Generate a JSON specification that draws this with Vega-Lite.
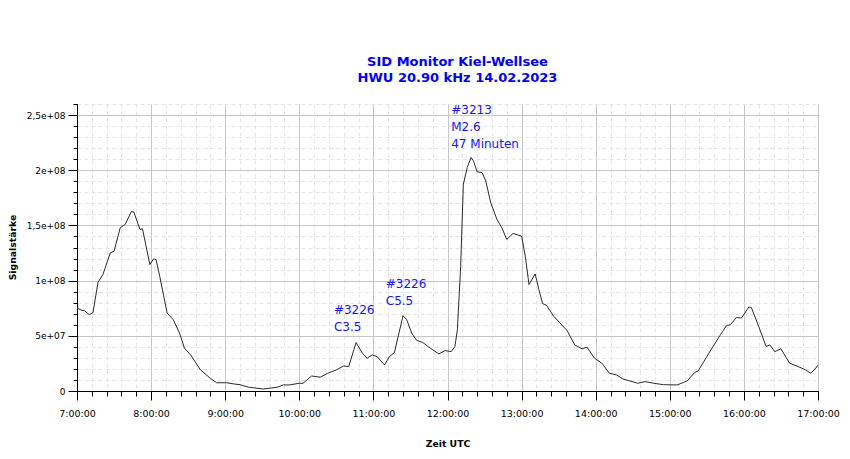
{
  "$schema": "https://vega.github.io/schema/vega-lite/v6.json",
  "autosize": {"type": "none"},
  "padding": {"left": 77, "top": 104, "right": 32, "bottom": 68},
  "width": 741,
  "height": 287,
  "background": "white",
  "title": {
    "text": ["SID Monitor Kiel-Wellsee", "HWU 20.90 kHz 14.02.2023"],
    "font": "DejaVu Sans",
    "fontSize": 13,
    "fontWeight": "bold",
    "color": "#0000ff",
    "lineHeight": 16,
    "offset": 19,
    "dx": 10
  },
  "datasets": {
    "sid": [
      {"t": "2023-02-14T07:00:00", "v": 75200000},
      {"t": "2023-02-14T07:04:00", "v": 73000000},
      {"t": "2023-02-14T07:06:00", "v": 72700000},
      {"t": "2023-02-14T07:10:00", "v": 69100000},
      {"t": "2023-02-14T07:13:00", "v": 71200000},
      {"t": "2023-02-14T07:17:00", "v": 98500000},
      {"t": "2023-02-14T07:21:00", "v": 105500000},
      {"t": "2023-02-14T07:27:00", "v": 125200000},
      {"t": "2023-02-14T07:30:00", "v": 126600000},
      {"t": "2023-02-14T07:35:00", "v": 147900000},
      {"t": "2023-02-14T07:39:00", "v": 150900000},
      {"t": "2023-02-14T07:44:00", "v": 162500000},
      {"t": "2023-02-14T07:46:00", "v": 162100000},
      {"t": "2023-02-14T07:51:00", "v": 146400000},
      {"t": "2023-02-14T07:53:00", "v": 147000000},
      {"t": "2023-02-14T07:59:00", "v": 114500000},
      {"t": "2023-02-14T08:02:00", "v": 119700000},
      {"t": "2023-02-14T08:04:00", "v": 119100000},
      {"t": "2023-02-14T08:07:00", "v": 103900000},
      {"t": "2023-02-14T08:13:00", "v": 70600000},
      {"t": "2023-02-14T08:18:00", "v": 64500000},
      {"t": "2023-02-14T08:23:00", "v": 52500000},
      {"t": "2023-02-14T08:27:00", "v": 38800000},
      {"t": "2023-02-14T08:32:00", "v": 32700000},
      {"t": "2023-02-14T08:40:00", "v": 19100000},
      {"t": "2023-02-14T08:48:00", "v": 11500000},
      {"t": "2023-02-14T08:53:00", "v": 7500000},
      {"t": "2023-02-14T09:01:00", "v": 7500000},
      {"t": "2023-02-14T09:07:00", "v": 6400000},
      {"t": "2023-02-14T09:12:00", "v": 5700000},
      {"t": "2023-02-14T09:19:00", "v": 3400000},
      {"t": "2023-02-14T09:31:00", "v": 1800000},
      {"t": "2023-02-14T09:42:00", "v": 3400000},
      {"t": "2023-02-14T09:47:00", "v": 5500000},
      {"t": "2023-02-14T09:52:00", "v": 5500000},
      {"t": "2023-02-14T10:00:00", "v": 7000000},
      {"t": "2023-02-14T10:03:00", "v": 7000000},
      {"t": "2023-02-14T10:10:00", "v": 13600000},
      {"t": "2023-02-14T10:17:00", "v": 12500000},
      {"t": "2023-02-14T10:23:00", "v": 16100000},
      {"t": "2023-02-14T10:30:00", "v": 19100000},
      {"t": "2023-02-14T10:36:00", "v": 22700000},
      {"t": "2023-02-14T10:40:00", "v": 22100000},
      {"t": "2023-02-14T10:46:00", "v": 43900000},
      {"t": "2023-02-14T10:51:00", "v": 34300000},
      {"t": "2023-02-14T10:55:00", "v": 29700000},
      {"t": "2023-02-14T10:59:00", "v": 32700000},
      {"t": "2023-02-14T11:03:00", "v": 31200000},
      {"t": "2023-02-14T11:09:00", "v": 23600000},
      {"t": "2023-02-14T11:13:00", "v": 31200000},
      {"t": "2023-02-14T11:17:00", "v": 34800000},
      {"t": "2023-02-14T11:24:00", "v": 68200000},
      {"t": "2023-02-14T11:27:00", "v": 64500000},
      {"t": "2023-02-14T11:31:00", "v": 52500000},
      {"t": "2023-02-14T11:35:00", "v": 45900000},
      {"t": "2023-02-14T11:40:00", "v": 43900000},
      {"t": "2023-02-14T11:46:00", "v": 38800000},
      {"t": "2023-02-14T11:53:00", "v": 33600000},
      {"t": "2023-02-14T11:58:00", "v": 36600000},
      {"t": "2023-02-14T12:03:00", "v": 35700000},
      {"t": "2023-02-14T12:06:00", "v": 40300000},
      {"t": "2023-02-14T12:08:00", "v": 55500000},
      {"t": "2023-02-14T12:10:40", "v": 113000000},
      {"t": "2023-02-14T12:12:50", "v": 187300000},
      {"t": "2023-02-14T12:16:00", "v": 202500000},
      {"t": "2023-02-14T12:19:00", "v": 211500000},
      {"t": "2023-02-14T12:21:00", "v": 208500000},
      {"t": "2023-02-14T12:24:00", "v": 198500000},
      {"t": "2023-02-14T12:28:00", "v": 197900000},
      {"t": "2023-02-14T12:31:00", "v": 190300000},
      {"t": "2023-02-14T12:35:00", "v": 170600000},
      {"t": "2023-02-14T12:40:00", "v": 155500000},
      {"t": "2023-02-14T12:44:00", "v": 147900000},
      {"t": "2023-02-14T12:48:00", "v": 137300000},
      {"t": "2023-02-14T12:53:00", "v": 142700000},
      {"t": "2023-02-14T13:00:00", "v": 140300000},
      {"t": "2023-02-14T13:03:00", "v": 122100000},
      {"t": "2023-02-14T13:06:00", "v": 96400000},
      {"t": "2023-02-14T13:11:00", "v": 106100000},
      {"t": "2023-02-14T13:14:00", "v": 91800000},
      {"t": "2023-02-14T13:17:00", "v": 79100000},
      {"t": "2023-02-14T13:20:00", "v": 77900000},
      {"t": "2023-02-14T13:26:00", "v": 67700000},
      {"t": "2023-02-14T13:31:00", "v": 61800000},
      {"t": "2023-02-14T13:37:00", "v": 54500000},
      {"t": "2023-02-14T13:43:00", "v": 41800000},
      {"t": "2023-02-14T13:49:00", "v": 38200000},
      {"t": "2023-02-14T13:53:00", "v": 39700000},
      {"t": "2023-02-14T13:59:00", "v": 29700000},
      {"t": "2023-02-14T14:05:00", "v": 25200000},
      {"t": "2023-02-14T14:11:00", "v": 16100000},
      {"t": "2023-02-14T14:17:00", "v": 14500000},
      {"t": "2023-02-14T14:22:00", "v": 10900000},
      {"t": "2023-02-14T14:34:00", "v": 7000000},
      {"t": "2023-02-14T14:40:00", "v": 8500000},
      {"t": "2023-02-14T14:47:00", "v": 7000000},
      {"t": "2023-02-14T14:55:00", "v": 5700000},
      {"t": "2023-02-14T15:06:00", "v": 5500000},
      {"t": "2023-02-14T15:14:00", "v": 9100000},
      {"t": "2023-02-14T15:20:00", "v": 16600000},
      {"t": "2023-02-14T15:23:00", "v": 18200000},
      {"t": "2023-02-14T15:30:00", "v": 31200000},
      {"t": "2023-02-14T15:35:00", "v": 40300000},
      {"t": "2023-02-14T15:41:00", "v": 50900000},
      {"t": "2023-02-14T15:46:00", "v": 59400000},
      {"t": "2023-02-14T15:49:00", "v": 60000000},
      {"t": "2023-02-14T15:54:00", "v": 66600000},
      {"t": "2023-02-14T15:58:00", "v": 66100000},
      {"t": "2023-02-14T16:04:00", "v": 76100000},
      {"t": "2023-02-14T16:06:00", "v": 75700000},
      {"t": "2023-02-14T16:12:00", "v": 58500000},
      {"t": "2023-02-14T16:18:00", "v": 40300000},
      {"t": "2023-02-14T16:21:00", "v": 41800000},
      {"t": "2023-02-14T16:25:00", "v": 35700000},
      {"t": "2023-02-14T16:30:00", "v": 38200000},
      {"t": "2023-02-14T16:37:00", "v": 25200000},
      {"t": "2023-02-14T16:44:00", "v": 22100000},
      {"t": "2023-02-14T16:50:00", "v": 19100000},
      {"t": "2023-02-14T16:54:00", "v": 16100000},
      {"t": "2023-02-14T16:57:00", "v": 19100000},
      {"t": "2023-02-14T17:00:00", "v": 23400000}
    ],
    "notes": [
      {"t": "2023-02-14T10:28:00", "v": 70000000, "label": "#3226\nC3.5"},
      {"t": "2023-02-14T11:10:00", "v": 93600000, "label": "#3226\nC5.5"},
      {"t": "2023-02-14T12:03:00", "v": 250900000, "label": "#3213\nM2.6\n47 Minuten"}
    ]
  },
  "layer": [
    {
      "data": {"name": "sid"},
      "mark": {"type": "line", "color": "#2b2b2b", "strokeWidth": 1},
      "encoding": {
        "x": {
          "field": "t",
          "type": "temporal",
          "scale": {
            "domain": [
              {"year": 2023, "month": 2, "date": 14, "hours": 7},
              {"year": 2023, "month": 2, "date": 14, "hours": 17}
            ],
            "nice": false
          },
          "axis": {
            "orient": "bottom",
            "values": [
              {"year": 2023, "month": 2, "date": 14, "hours": 7, "minutes": 0},
              {"year": 2023, "month": 2, "date": 14, "hours": 7, "minutes": 12},
              {"year": 2023, "month": 2, "date": 14, "hours": 7, "minutes": 24},
              {"year": 2023, "month": 2, "date": 14, "hours": 7, "minutes": 36},
              {"year": 2023, "month": 2, "date": 14, "hours": 7, "minutes": 48},
              {"year": 2023, "month": 2, "date": 14, "hours": 8, "minutes": 0},
              {"year": 2023, "month": 2, "date": 14, "hours": 8, "minutes": 12},
              {"year": 2023, "month": 2, "date": 14, "hours": 8, "minutes": 24},
              {"year": 2023, "month": 2, "date": 14, "hours": 8, "minutes": 36},
              {"year": 2023, "month": 2, "date": 14, "hours": 8, "minutes": 48},
              {"year": 2023, "month": 2, "date": 14, "hours": 9, "minutes": 0},
              {"year": 2023, "month": 2, "date": 14, "hours": 9, "minutes": 12},
              {"year": 2023, "month": 2, "date": 14, "hours": 9, "minutes": 24},
              {"year": 2023, "month": 2, "date": 14, "hours": 9, "minutes": 36},
              {"year": 2023, "month": 2, "date": 14, "hours": 9, "minutes": 48},
              {"year": 2023, "month": 2, "date": 14, "hours": 10, "minutes": 0},
              {"year": 2023, "month": 2, "date": 14, "hours": 10, "minutes": 12},
              {"year": 2023, "month": 2, "date": 14, "hours": 10, "minutes": 24},
              {"year": 2023, "month": 2, "date": 14, "hours": 10, "minutes": 36},
              {"year": 2023, "month": 2, "date": 14, "hours": 10, "minutes": 48},
              {"year": 2023, "month": 2, "date": 14, "hours": 11, "minutes": 0},
              {"year": 2023, "month": 2, "date": 14, "hours": 11, "minutes": 12},
              {"year": 2023, "month": 2, "date": 14, "hours": 11, "minutes": 24},
              {"year": 2023, "month": 2, "date": 14, "hours": 11, "minutes": 36},
              {"year": 2023, "month": 2, "date": 14, "hours": 11, "minutes": 48},
              {"year": 2023, "month": 2, "date": 14, "hours": 12, "minutes": 0},
              {"year": 2023, "month": 2, "date": 14, "hours": 12, "minutes": 12},
              {"year": 2023, "month": 2, "date": 14, "hours": 12, "minutes": 24},
              {"year": 2023, "month": 2, "date": 14, "hours": 12, "minutes": 36},
              {"year": 2023, "month": 2, "date": 14, "hours": 12, "minutes": 48},
              {"year": 2023, "month": 2, "date": 14, "hours": 13, "minutes": 0},
              {"year": 2023, "month": 2, "date": 14, "hours": 13, "minutes": 12},
              {"year": 2023, "month": 2, "date": 14, "hours": 13, "minutes": 24},
              {"year": 2023, "month": 2, "date": 14, "hours": 13, "minutes": 36},
              {"year": 2023, "month": 2, "date": 14, "hours": 13, "minutes": 48},
              {"year": 2023, "month": 2, "date": 14, "hours": 14, "minutes": 0},
              {"year": 2023, "month": 2, "date": 14, "hours": 14, "minutes": 12},
              {"year": 2023, "month": 2, "date": 14, "hours": 14, "minutes": 24},
              {"year": 2023, "month": 2, "date": 14, "hours": 14, "minutes": 36},
              {"year": 2023, "month": 2, "date": 14, "hours": 14, "minutes": 48},
              {"year": 2023, "month": 2, "date": 14, "hours": 15, "minutes": 0},
              {"year": 2023, "month": 2, "date": 14, "hours": 15, "minutes": 12},
              {"year": 2023, "month": 2, "date": 14, "hours": 15, "minutes": 24},
              {"year": 2023, "month": 2, "date": 14, "hours": 15, "minutes": 36},
              {"year": 2023, "month": 2, "date": 14, "hours": 15, "minutes": 48},
              {"year": 2023, "month": 2, "date": 14, "hours": 16, "minutes": 0},
              {"year": 2023, "month": 2, "date": 14, "hours": 16, "minutes": 12},
              {"year": 2023, "month": 2, "date": 14, "hours": 16, "minutes": 24},
              {"year": 2023, "month": 2, "date": 14, "hours": 16, "minutes": 36},
              {"year": 2023, "month": 2, "date": 14, "hours": 16, "minutes": 48},
              {"year": 2023, "month": 2, "date": 14, "hours": 17, "minutes": 0}
            ],
            "labels": false,
            "title": null,
            "grid": true,
            "gridColor": "#e4e4e4",
            "gridDash": [4, 3],
            "tickSize": 5,
            "tickColor": "#000",
            "domainColor": "#000"
          }
        },
        "y": {
          "field": "v",
          "type": "quantitative",
          "scale": {"domain": [0, 260000000], "nice": false},
          "axis": {
            "orient": "left",
            "tickCount": 26,
            "labels": false,
            "title": null,
            "grid": true,
            "gridColor": "#e4e4e4",
            "gridDash": [4, 3],
            "tickSize": 4,
            "tickColor": "#000",
            "domainColor": "#000"
          }
        }
      }
    },
    {
      "data": {"name": "notes"},
      "mark": {
        "type": "text",
        "align": "left",
        "baseline": "alphabetic",
        "lineBreak": "\n",
        "lineHeight": 17,
        "font": "DejaVu Sans",
        "fontSize": 12,
        "color": "#1414ff"
      },
      "encoding": {
        "x": {
          "field": "t",
          "type": "temporal",
          "scale": {
            "domain": [
              {"year": 2023, "month": 2, "date": 14, "hours": 7},
              {"year": 2023, "month": 2, "date": 14, "hours": 17}
            ],
            "nice": false
          },
          "axis": {
            "orient": "bottom",
            "values": [
              {"year": 2023, "month": 2, "date": 14, "hours": 7},
              {"year": 2023, "month": 2, "date": 14, "hours": 8},
              {"year": 2023, "month": 2, "date": 14, "hours": 9},
              {"year": 2023, "month": 2, "date": 14, "hours": 10},
              {"year": 2023, "month": 2, "date": 14, "hours": 11},
              {"year": 2023, "month": 2, "date": 14, "hours": 12},
              {"year": 2023, "month": 2, "date": 14, "hours": 13},
              {"year": 2023, "month": 2, "date": 14, "hours": 14},
              {"year": 2023, "month": 2, "date": 14, "hours": 15},
              {"year": 2023, "month": 2, "date": 14, "hours": 16},
              {"year": 2023, "month": 2, "date": 14, "hours": 17}
            ],
            "format": "%-H:%M:%S",
            "labelFont": "DejaVu Sans",
            "labelFontSize": 9.5,
            "labelColor": "#000",
            "labelPadding": 8,
            "labelFlush": false,
            "grid": true,
            "gridColor": "#c6c6c6",
            "tickSize": 9,
            "tickColor": "#000",
            "domainColor": "#000",
            "title": "Zeit UTC",
            "titleFont": "DejaVu Sans",
            "titleFontSize": 9.3,
            "titleFontWeight": "bold",
            "titleColor": "#000",
            "titleY": 48
          }
        },
        "y": {
          "field": "v",
          "type": "quantitative",
          "scale": {"domain": [0, 260000000], "nice": false},
          "axis": {
            "orient": "left",
            "values": [0, 50000000, 100000000, 150000000, 200000000, 250000000],
            "labelExpr": "datum.value == 0 ? '0' : datum.value == 50000000 ? '5e+07' : datum.value == 100000000 ? '1e+08' : datum.value == 150000000 ? '1,5e+08' : datum.value == 200000000 ? '2e+08' : '2,5e+08'",
            "labelFont": "DejaVu Sans",
            "labelFontSize": 9,
            "labelColor": "#000",
            "labelPadding": 3,
            "grid": true,
            "gridColor": "#c6c6c6",
            "tickSize": 9,
            "tickColor": "#000",
            "domainColor": "#000",
            "title": "Signalstärke",
            "titleFont": "DejaVu Sans",
            "titleFontSize": 9.3,
            "titleFontWeight": "bold",
            "titleColor": "#000",
            "titleX": -60,
            "titleY": 143
          }
        },
        "text": {"field": "label", "type": "nominal"}
      }
    }
  ],
  "resolve": {"scale": {"x": "independent", "y": "independent"}},
  "config": {
    "view": {"stroke": null},
    "axis": {"domainWidth": 1, "tickWidth": 1, "gridWidth": 1}
  }
}
